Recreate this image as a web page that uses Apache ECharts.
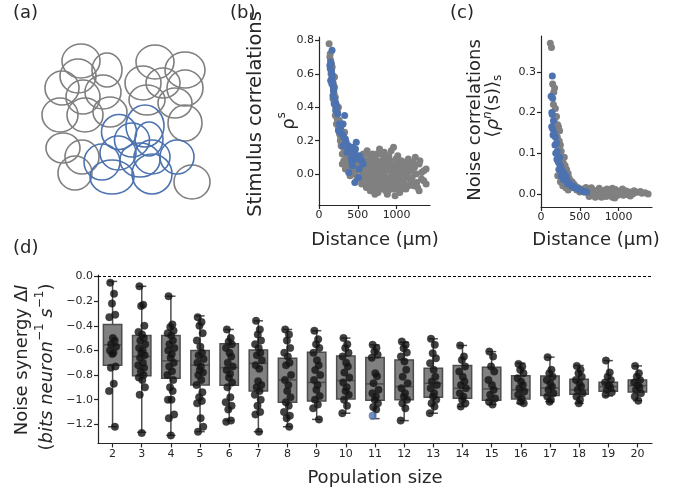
<!DOCTYPE html>
<html>
<head>
<meta charset="utf-8">
<script src="https://cdn.jsdelivr.net/npm/echarts@6/dist/echarts.min.js"></script>
<style>
  html, body { margin: 0; padding: 0; background: #fff; }
  #chart { width: 685px; height: 493px; }
</style>
</head>
<body>
<div id="chart"></div>
<script>
// ---- panel (a): receptive fields (arbitrary units), [x, y, rx, ry]
const rfGray = [
  [20.5, 11.5, 9.5, 8.5], [33.5, 16, 7.5, 8.5], [19, 19, 9, 8.5], [11, 25, 8.5, 8.5],
  [21.5, 29.5, 8.5, 8.5], [31.5, 27, 9, 8.5], [10, 38.5, 9, 8.5], [22.5, 38.5, 9, 8.5],
  [35, 37, 8.5, 7.5], [51.5, 22.5, 9, 8.5], [57.5, 12, 9.5, 8.5], [72.5, 16, 10, 9],
  [61.5, 22.5, 8.5, 7.5], [72.5, 25, 9, 9], [53.5, 31, 9, 7.5], [67.5, 32.5, 8.5, 7.5],
  [72.5, 42.5, 8.5, 9], [11.5, 55, 8.5, 7.5], [21, 59.5, 8.5, 8.5], [17.5, 67.5, 8.5, 8.5],
  [76, 72, 9, 8.5]
];
const rfBlue = [
  [52.5, 44, 9.5, 10.5], [39.5, 47, 8.75, 8.75], [46, 51, 8.75, 8.5], [54.5, 50.5, 7, 8.5],
  [39, 57.5, 9, 8.5], [31, 62, 9, 9], [36, 69.5, 11, 8.5], [50, 61, 10, 8.5],
  [56, 68, 10, 10], [56, 59.5, 9, 8.5], [68.5, 59.5, 8.5, 8.5]
];

// ---- panel (b): stimulus correlations vs distance (µm)
const stimGray = [
  [130,0.78],[140,0.70],[150,0.68],[145,0.72],[160,0.66],[170,0.64],[155,0.60],[175,0.59],[165,0.57],
  [180,0.55],[190,0.53],[185,0.50],[200,0.52],[195,0.48],[210,0.46],[205,0.44],[220,0.42],[215,0.40],
  [230,0.38],[225,0.36],[240,0.37],[210,0.35],[235,0.33],[250,0.31],[245,0.29],[260,0.32],[255,0.27],
  [270,0.27],[265,0.24],[280,0.22],[275,0.20],[290,0.23],[300,0.19],[285,0.17],[310,0.16],[320,0.18],
  [330,0.14],[300,0.12],[340,0.12],[350,0.10],[360,0.13],[370,0.09],[380,0.11],[320,0.08],[390,0.07],
  [400,0.09],[410,0.06],[350,0.05],[420,0.04],[430,0.08],[440,0.03],[300,0.06],[380,0.02],[450,0.05],
  [460,0.0],[400,-0.01],[340,0.03],[470,0.06],[480,0.02],[350,0.15],[390,0.14],[420,0.12],[460,0.13],
  [500,0.10],[330,0.25],[290,0.30],[250,0.40],[200,0.58],[160,0.63],[180,0.45],[225,0.30],
  [500,0.04],[520,-0.02],[540,0.06],[560,0.01],[580,-0.05],[600,0.03],[620,0.08],[640,-0.01],[660,0.05],
  [680,-0.07],[700,0.02],[720,0.10],[740,-0.03],[760,0.04],[780,-0.08],[800,0.01],[820,0.06],[840,-0.04],
  [860,0.03],[880,-0.06],[900,0.07],[920,-0.02],[940,0.02],[960,-0.09],[980,0.05],[1000,-0.01],[1020,0.03],
  [1040,-0.05],[1060,0.08],[1080,0.0],[1100,-0.03],[1120,0.05],[1150,-0.07],[1180,0.02],[1200,-0.02],
  [1230,0.04],[1260,-0.05],[1290,0.06],[1320,-0.03],[1350,0.02],[1380,0.03],[1240,0.10],[1300,0.08],
  [530,0.09],[550,-0.06],[570,0.12],[590,0.05],[610,-0.08],[630,0.0],[650,0.11],[670,0.03],[690,-0.04],
  [710,0.06],[730,-0.10],[750,0.08],[770,0.0],[790,0.12],[810,-0.05],[830,0.09],[850,-0.01],[870,0.05],
  [890,-0.10],[910,0.02],[930,0.14],[950,-0.05],[970,0.01],[990,0.09],[1010,-0.07],[1030,0.0],[1050,0.04],
  [1070,-0.09],[1090,0.02],[1110,-0.06],[1130,0.0],[1160,0.03],[1190,-0.04],[1210,0.07],[1250,0.0],[1270,-0.08],
  [600,-0.02],[650,-0.06],[700,-0.01],[750,-0.06],[800,0.05],[850,0.07],[900,-0.04],[950,0.05],[1000,0.02],
  [1050,-0.02],[1100,0.07],[620,0.14],[780,0.15],[900,0.11],[960,0.16],[720,-0.12],[880,-0.12],[1040,-0.11],
  [980,-0.13],[560,0.10],[680,0.07],[820,-0.09],[940,-0.07],[1060,-0.04],[660,-0.10],[760,-0.11],[1120,-0.09],
  [1180,0.06],[1320,0.01],[1220,-0.07],
  [540,-0.03],[575,0.02],[610,0.06],[645,0.03],[675,-0.02],[705,0.09],[735,0.03],[765,-0.02],[795,0.07],
  [825,0.02],[855,-0.07],[885,0.03],[915,0.08],[945,-0.01],[975,-0.03],[1005,0.06],[1035,-0.04],[1065,0.01],
  [1095,-0.08],[1125,0.03],[625,-0.04],[655,0.08],[715,-0.07],[745,0.12],[805,-0.02],[865,0.10],[925,-0.09],
  [1015,0.11],[1085,0.05],[1140,-0.02],[690,0.12],[840,0.13],[770,-0.06],[1000,-0.09],[520,0.07],[590,-0.01],
  [490,-0.03],[860,-0.10],[1150,0.09],[1350,-0.04],[1290,-0.10],[1380,-0.06]
];
const stimBlue = [
  [168,0.74],[150,0.67],[140,0.65],[155,0.66],[145,0.63],[160,0.62],[165,0.60],[170,0.58],[150,0.56],
  [175,0.55],[185,0.52],[165,0.54],[190,0.50],[180,0.47],[200,0.45],[210,0.43],[195,0.42],[220,0.41],
  [230,0.40],[215,0.38],[240,0.36],[330,0.35],[310,0.30],[260,0.30],[280,0.28],[250,0.26],[270,0.25],
  [300,0.24],[320,0.22],[340,0.21],[350,0.19],[310,0.17],[380,0.17],[400,0.15],[430,0.16],[480,0.19],
  [470,0.15],[360,0.13],[420,0.10],[450,0.12],[520,0.11],[550,0.08],[420,0.08],[384,0.01],[474,0.09],
  [517,0.03],[569,0.06],[430,0.05],[510,-0.02],[461,-0.05]
];

// ---- panel (c): noise correlations vs distance (µm)
const noiseGray = [
  [120,0.37],[135,0.36],[150,0.27],[165,0.25],[175,0.26],[160,0.22],[185,0.21],[200,0.19],[170,0.18],
  [195,0.16],[215,0.17],[225,0.165],[210,0.14],[240,0.155],[235,0.13],[250,0.12],[230,0.10],[260,0.105],
  [270,0.09],[255,0.08],[280,0.085],[290,0.075],[300,0.09],[310,0.07],[270,0.06],[320,0.055],[330,0.06],
  [215,0.045],[340,0.045],[350,0.05],[360,0.04],[300,0.035],[370,0.035],[380,0.03],[390,0.025],[400,0.03],
  [410,0.02],[420,0.025],[430,0.015],[440,0.02],[250,0.03],[280,0.02],[320,0.015],[350,0.01],[380,0.015],
  [460,0.01],[480,0.015],[500,0.005],[520,0.01],[540,0.012],[560,0.004],
  [600,0.01],[620,0.0],[640,0.012],[660,0.004],[680,-0.003],[700,0.008],[720,0.0],[740,0.01],[760,-0.005],
  [780,0.006],[800,0.0],[820,0.009],[840,-0.006],[860,0.004],[880,-0.002],[900,0.008],[920,-0.008],[940,0.002],
  [960,0.011],[980,-0.004],[1000,0.006],[1020,0.0],[1040,0.009],[1060,-0.003],[1080,0.004],[1100,0.007],
  [1120,-0.002],[1150,0.005],[1180,0.0],[1200,0.003],[1240,0.004],[1280,0.006],[1300,0.002],[1340,0.003],
  [1380,0.0],[1200,0.008],[650,0.015],[700,-0.008],[750,0.014],[850,0.012],[950,-0.01],[1050,0.012],
  [580,0.016],[620,-0.006],[880,0.01],[990,0.001],[1150,-0.005],[780,-0.008],[920,0.014]
];
const noiseBlue = [
  [146,0.29],[130,0.24],[150,0.235],[140,0.20],[145,0.195],[160,0.18],[138,0.165],[150,0.16],[155,0.145],
  [170,0.15],[185,0.14],[180,0.12],[200,0.125],[190,0.10],[210,0.105],[205,0.085],[220,0.08],[235,0.075],
  [250,0.07],[230,0.06],[265,0.06],[280,0.055],[260,0.045],[300,0.05],[310,0.04],[290,0.035],[330,0.035],
  [350,0.03],[340,0.025],[370,0.025],[390,0.02],[410,0.02],[430,0.015],[450,0.015],[480,0.012],[500,0.01],
  [530,0.008],[560,0.006],[590,0.005],[320,0.045],[240,0.09]
];

// ---- panel (d): noise synergy per population size
const popSizes = ['2','3','4','5','6','7','8','9','10','11','12','13','14','15','16','17','18','19','20'];
const boxMax = [-0.04,-0.08,-0.16,-0.32,-0.43,-0.36,-0.43,-0.44,-0.50,-0.555,-0.534,-0.506,-0.56,-0.61,-0.704,-0.655,-0.723,-0.683,-0.726];
const boxQ3  = [-0.39,-0.48,-0.48,-0.60,-0.547,-0.596,-0.664,-0.615,-0.645,-0.658,-0.677,-0.745,-0.723,-0.737,-0.805,-0.807,-0.834,-0.859,-0.84];
const boxMed = [-0.555,-0.65,-0.685,-0.72,-0.74,-0.705,-0.84,-0.86,-0.845,-0.872,-0.894,-0.867,-0.907,-0.913,-0.92,-0.905,-0.92,-0.894,-0.886];
const boxQ1  = [-0.72,-0.805,-0.826,-0.88,-0.883,-0.93,-1.02,-1.01,-0.994,-1.005,-1.0,-0.98,-0.989,-1.005,-0.994,-0.967,-0.956,-0.932,-0.937];
const boxMin = [-1.22,-1.265,-1.29,-1.26,-1.17,-1.26,-1.22,-1.16,-1.11,-1.154,-1.17,-1.11,-1.056,-1.04,-1.03,-1.016,-1.03,-0.97,-1.008];
const synergyPoints = [
  [-0.05,-0.14,-0.22,-0.31,-0.33,-0.50,-0.52,-0.55,-0.57,-0.60,-0.62,-0.63,-0.73,-0.74,-0.87,-0.93,-1.22],
  [-0.08,-0.23,-0.24,-0.40,-0.45,-0.47,-0.50,-0.52,-0.55,-0.58,-0.60,-0.62,-0.64,-0.66,-0.70,-0.72,-0.74,-0.77,-0.80,-0.82,-0.84,-0.90,-0.96,-1.27],
  [-0.16,-0.39,-0.41,-0.44,-0.46,-0.48,-0.52,-0.55,-0.58,-0.60,-0.63,-0.66,-0.70,-0.73,-0.77,-0.80,-0.84,-0.90,-0.93,-1.0,-1.0,-1.12,-1.15,-1.29],
  [-0.33,-0.37,-0.40,-0.46,-0.52,-0.57,-0.62,-0.64,-0.67,-0.70,-0.73,-0.76,-0.78,-0.80,-0.84,-0.88,-0.94,-0.98,-1.01,-1.03,-1.15,-1.22,-1.26],
  [-0.43,-0.50,-0.53,-0.55,-0.58,-0.62,-0.65,-0.70,-0.73,-0.76,-0.79,-0.82,-0.86,-0.90,-0.98,-1.02,-1.05,-1.08,-1.17,-1.18],
  [-0.36,-0.43,-0.47,-0.52,-0.55,-0.58,-0.62,-0.64,-0.68,-0.72,-0.75,-0.85,-0.88,-0.90,-0.93,-0.96,-1.0,-1.05,-1.10,-1.12,-1.26],
  [-0.43,-0.47,-0.52,-0.58,-0.62,-0.65,-0.70,-0.72,-0.80,-0.84,-0.88,-0.93,-0.98,-1.02,-1.05,-1.10,-1.13,-1.15,-1.22],
  [-0.44,-0.51,-0.55,-0.58,-0.62,-0.68,-0.72,-0.76,-0.80,-0.84,-0.88,-0.92,-0.97,-1.0,-1.04,-1.07,-1.16],
  [-0.50,-0.55,-0.58,-0.62,-0.65,-0.70,-0.73,-0.78,-0.82,-0.86,-0.90,-0.93,-0.96,-1.0,-1.05,-1.11],
  [-0.555,-0.58,-0.61,-0.635,-0.66,-0.785,-0.81,-0.867,-0.92,-0.948,-0.975,-1.0,-1.03,-1.06,-1.08],
  [-0.528,-0.555,-0.582,-0.618,-0.65,-0.69,-0.758,-0.813,-0.867,-0.907,-0.948,-0.975,-1.0,-1.03,-1.07,-1.17],
  [-0.506,-0.555,-0.623,-0.664,-0.704,-0.758,-0.813,-0.853,-0.88,-0.907,-0.948,-0.975,-1.0,-1.03,-1.056,-1.11],
  [-0.56,-0.65,-0.677,-0.73,-0.772,-0.813,-0.853,-0.88,-0.907,-0.948,-0.975,-1.0,-1.03,-1.056],
  [-0.61,-0.65,-0.73,-0.772,-0.84,-0.88,-0.92,-0.96,-0.99,-1.016,-1.04],
  [-0.71,-0.73,-0.758,-0.785,-0.826,-0.853,-0.88,-0.907,-0.934,-0.96,-0.99,-1.016,-1.03],
  [-0.655,-0.758,-0.785,-0.813,-0.84,-0.867,-0.894,-0.92,-0.948,-0.975,-1.0,-1.016],
  [-0.726,-0.758,-0.785,-0.813,-0.84,-0.867,-0.894,-0.92,-0.948,-0.975,-1.0,-1.03],
  [-0.683,-0.78,-0.813,-0.84,-0.86,-0.88,-0.90,-0.92,-0.94,-0.96],
  [-0.726,-0.785,-0.813,-0.84,-0.86,-0.88,-0.90,-0.92,-0.948,-0.975,-1.008]
];
const highlightPoint = [11, -1.13];   // population size, synergy
// horizontal strip jitter (fraction of a category)
const jitter = [-0.08,0.05,-0.02,0.09,-0.11,0.01,0.07,-0.05,0.12,-0.09,0.03,-0.01,0.10,-0.06,0.04,-0.12,0.08,-0.03,0.06,-0.10,0.02,0.11,-0.07,0.0,-0.04];

const GRAY = '#808080';
const BLUE = '#4c72b0';
const INK = '#262626';
const FONT = 'DejaVu Sans';

const chart = echarts.init(document.getElementById('chart'), null, { renderer: 'canvas' });

const axisCommon = {
  axisLine: { show: true, onZero: false, lineStyle: { color: INK, width: 1.2 } },
  axisTick: { show: true, length: 4, lineStyle: { color: INK, width: 1.2 } },
  axisLabel: { color: INK, fontSize: 11, fontFamily: FONT, margin: 5 },
  splitLine: { show: false }
};
const fmt1 = v => (v < -1e-9 ? '\u2212' : '') + Math.abs(v).toFixed(1);
const fmt0 = v => String(Math.round(v));

const ellipseSeries = (data, color) => ({
  type: 'custom',
  xAxisIndex: 0, yAxisIndex: 0,
  silent: true,
  data: data,
  renderItem: (params, api) => {
    const c = api.coord([api.value(0), api.value(1)]);
    const s = api.size([api.value(2), api.value(3)]);
    return {
      type: 'ellipse',
      shape: { cx: c[0], cy: c[1], rx: Math.abs(s[0]), ry: Math.abs(s[1]) },
      style: { fill: 'none', stroke: color, lineWidth: 1.6 }
    };
  }
});

const boxData = popSizes.map((p, i) => [i, boxMin[i], boxQ1[i], boxMed[i], boxQ3[i], boxMax[i]]);
const stripData = [];
synergyPoints.forEach((vals, i) => {
  const size = Number(popSizes[i]);
  vals.forEach((v, j) => stripData.push([size + jitter[j % jitter.length], v]));
});

const txt = (text, x, y, size, extra) => Object.assign({
  type: 'text', x: x, y: y, silent: true,
  style: {
    text: text, fill: INK, fontSize: size, fontFamily: FONT,
    align: 'center', verticalAlign: 'middle', textAlign: 'center', textVerticalAlign: 'middle'
  }
}, extra || {});
const rot = { rotation: Math.PI / 2 };
const panelLabel = (t, x, y) => ({
  type: 'text', x: x, y: y, silent: true,
  style: { text: t, fill: INK, fontSize: 18, fontFamily: FONT, align: 'left', verticalAlign: 'middle' }
});

const valueAxis = (grid, min, max, ticks, formatter) => Object.assign({}, axisCommon, {
  gridIndex: grid, type: 'value', min: min, max: max,
  axisLabel: Object.assign({}, axisCommon.axisLabel, { customValues: ticks, formatter: formatter }),
  axisTick: Object.assign({}, axisCommon.axisTick, { customValues: ticks })
});

chart.setOption({
  animation: false,
  backgroundColor: '#fff',
  grid: [
    { left: 40, top: 38, width: 180, height: 170 },
    { left: 319, top: 37, width: 111, height: 168 },
    { left: 541, top: 36, width: 111, height: 171 },
    { left: 98, top: 275, width: 554, height: 168.4 }
  ],
  xAxis: [
    { gridIndex: 0, type: 'value', min: 0, max: 90, show: false },
    valueAxis(1, 0, 1430, [0, 500, 1000], fmt0),
    valueAxis(2, 0, 1430, [0, 500, 1000], fmt0),
    Object.assign({}, axisCommon, {
      gridIndex: 3, type: 'category', data: popSizes, boundaryGap: true,
      axisLabel: Object.assign({}, axisCommon.axisLabel, { interval: 0 }),
      axisTick: Object.assign({}, axisCommon.axisTick, { alignWithLabel: true, interval: 0 })
    }),
    { gridIndex: 3, type: 'value', min: 1.5, max: 20.5, show: false }
  ],
  yAxis: [
    { gridIndex: 0, type: 'value', min: 0, max: 85, inverse: true, show: false },
    valueAxis(1, -0.185, 0.82, [0, 0.2, 0.4, 0.6, 0.8], fmt1),
    valueAxis(2, -0.032, 0.388, [0, 0.1, 0.2, 0.3], fmt1),
    valueAxis(3, -1.355, 0.012, [0, -0.2, -0.4, -0.6, -0.8, -1.0, -1.2], fmt1)
  ],
  series: [
    ellipseSeries(rfGray, '#7f7f7f'),
    ellipseSeries(rfBlue, BLUE),
    { type: 'scatter', xAxisIndex: 1, yAxisIndex: 1, data: stimGray, symbolSize: 7, itemStyle: { color: GRAY, opacity: 1 }, silent: true },
    { type: 'scatter', xAxisIndex: 1, yAxisIndex: 1, data: stimBlue, symbolSize: 7, itemStyle: { color: BLUE, opacity: 1 }, silent: true },
    { type: 'scatter', xAxisIndex: 2, yAxisIndex: 2, data: noiseGray, symbolSize: 7, itemStyle: { color: GRAY, opacity: 1 }, silent: true },
    { type: 'scatter', xAxisIndex: 2, yAxisIndex: 2, data: noiseBlue, symbolSize: 7, itemStyle: { color: BLUE, opacity: 1 }, silent: true },
    {
      type: 'custom', xAxisIndex: 3, yAxisIndex: 3, silent: true,
      data: boxData,
      encode: { x: 0, y: [1, 2, 3, 4, 5] },
      renderItem: (params, api) => {
        const i = api.value(0);
        const pMin = api.coord([i, api.value(1)]);
        const pQ1 = api.coord([i, api.value(2)]);
        const pMed = api.coord([i, api.value(3)]);
        const pQ3 = api.coord([i, api.value(4)]);
        const pMax = api.coord([i, api.value(5)]);
        const band = api.size([1, 0])[0];
        const w = band * 0.63, cap = w * 0.5, x = pMed[0];
        const ls = { stroke: '#4d4d4d', lineWidth: 1.5 };
        return {
          type: 'group',
          children: [
            { type: 'line', shape: { x1: x, y1: pMax[1], x2: x, y2: pQ3[1] }, style: ls },
            { type: 'line', shape: { x1: x, y1: pQ1[1], x2: x, y2: pMin[1] }, style: ls },
            { type: 'line', shape: { x1: x - cap / 2, y1: pMax[1], x2: x + cap / 2, y2: pMax[1] }, style: ls },
            { type: 'line', shape: { x1: x - cap / 2, y1: pMin[1], x2: x + cap / 2, y2: pMin[1] }, style: ls },
            { type: 'rect', shape: { x: x - w / 2, y: pQ3[1], width: w, height: pQ1[1] - pQ3[1] },
              style: { fill: '#808080', stroke: '#4d4d4d', lineWidth: 1.5 } },
            { type: 'line', shape: { x1: x - w / 2, y1: pMed[1], x2: x + w / 2, y2: pMed[1] }, style: ls }
          ]
        };
      }
    },
    {
      type: 'scatter', xAxisIndex: 4, yAxisIndex: 3, data: stripData, symbolSize: 7.5,
      itemStyle: { color: '#121212', borderColor: '#2a2a2a', borderWidth: 0.5 }, silent: true,
      markLine: {
        silent: true, symbol: ['none', 'none'], label: { show: false },
        lineStyle: { color: '#000', width: 1, type: [3, 2] },
        data: [{ yAxis: 0 }]
      }
    },
    { type: 'scatter', xAxisIndex: 4, yAxisIndex: 3, data: [[highlightPoint[0] - 0.08, highlightPoint[1]]], symbolSize: 8, itemStyle: { color: BLUE }, silent: true, z: 3 }
  ],
  graphic: [
    panelLabel('(a)', 13, 13),
    panelLabel('(b)', 230, 13),
    panelLabel('(c)', 450, 13),
    panelLabel('(d)', 13, 248),
    txt('Distance (\u00b5m)', 375, 240, 18),
    txt('Distance (\u00b5m)', 596, 240, 18),
    txt('Population size', 375, 478, 18),
    txt('Stimulus correlations', 256, 114, 19.5, rot),
    txt('', 287, 121, 18, Object.assign({}, rot, { style: {
      text: '{m|\u03c1}{s|s}', fill: INK, fontFamily: FONT, align: 'center', verticalAlign: 'middle',
      rich: { m: { fontSize: 18, fontFamily: FONT, lineHeight: 22, verticalAlign: 'bottom' },
              s: { fontSize: 12, fontFamily: FONT, lineHeight: 12, verticalAlign: 'top' } }
    } })),
    txt('Noise correlations', 475, 120, 18, rot),
    txt('', 493, 106, 18, Object.assign({}, rot, { style: {
      text: '{m|\u27e8}{i|\u03c1}{sup|n}{m|(s)\u27e9}{sub|s}', fill: INK, fontFamily: FONT, align: 'center', verticalAlign: 'middle',
      rich: { m: { fontSize: 18, fontFamily: FONT, lineHeight: 22, verticalAlign: 'middle' },
              i: { fontSize: 18, fontFamily: FONT, fontStyle: 'italic', lineHeight: 22, verticalAlign: 'middle' },
              sup: { fontSize: 12, fontFamily: FONT, fontStyle: 'italic', lineHeight: 12, verticalAlign: 'top' },
              sub: { fontSize: 12, fontFamily: FONT, lineHeight: 12, verticalAlign: 'bottom' } }
    } })),
    txt('', 22, 360, 18, Object.assign({}, rot, { style: {
      text: '{m|Noise synergy \u0394}{i|I}', fill: INK, fontFamily: FONT, align: 'center', verticalAlign: 'middle',
      rich: { m: { fontSize: 18, fontFamily: FONT }, i: { fontSize: 18, fontFamily: FONT, fontStyle: 'italic' } }
    } })),
    txt('', 45, 367, 18, Object.assign({}, rot, { style: {
      text: '{m|(}{i|bits neuron}{sup|\u22121}{i| s}{sup|\u22121}{m|)}', fill: INK, fontFamily: FONT, align: 'center', verticalAlign: 'middle',
      rich: { m: { fontSize: 18, fontFamily: FONT, lineHeight: 22, verticalAlign: 'bottom' },
              i: { fontSize: 18, fontFamily: FONT, fontStyle: 'italic', lineHeight: 22, verticalAlign: 'bottom' },
              sup: { fontSize: 12, fontFamily: FONT, lineHeight: 12, verticalAlign: 'top' } }
    } }))
  ]
});
</script>
</body>
</html>
